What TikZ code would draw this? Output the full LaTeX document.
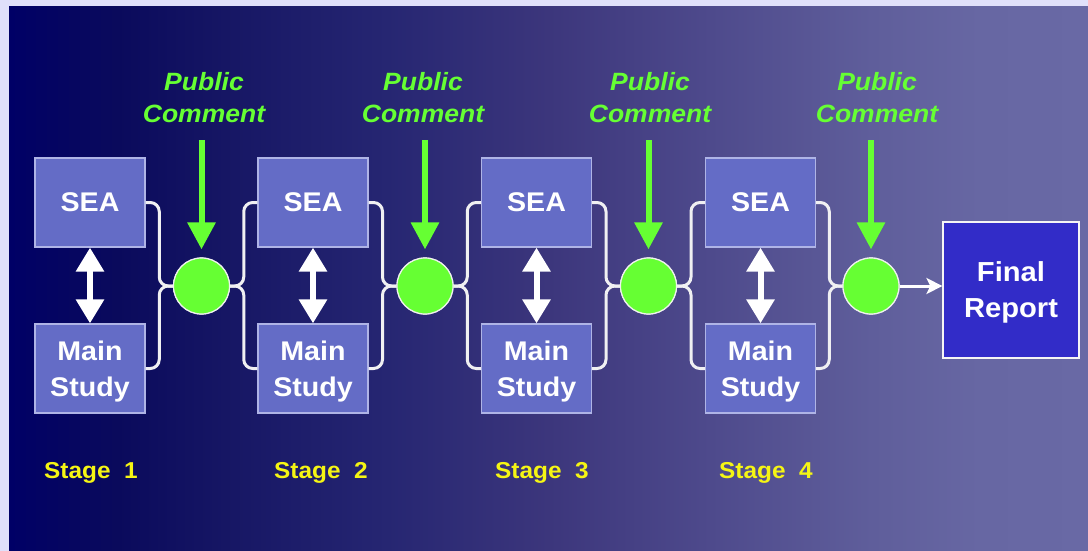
\documentclass[tikz,border=0pt]{standalone}
\usepackage{fontspec}
\setmainfont{Liberation Sans}[FakeStretch=1.06]
\usetikzlibrary{arrows.meta,calc}
\definecolor{frameclr}{RGB}{224,224,250}
\definecolor{bgA}{RGB}{0,0,102}
\definecolor{bgB}{RGB}{10,10,92}
\definecolor{bgC}{RGB}{22,22,100}
\definecolor{bgD}{RGB}{38,38,114}
\definecolor{bgE}{RGB}{60,54,124}
\definecolor{bgF}{RGB}{78,74,140}
\definecolor{bgG}{RGB}{95,94,155}
\definecolor{bgH}{RGB}{103,103,163}
\definecolor{bgI}{RGB}{105,105,165}
\definecolor{boxfill}{RGB}{100,108,198}
\definecolor{boxline}{RGB}{175,180,230}
\definecolor{finalfill}{RGB}{50,44,200}
\definecolor{pcgreen}{RGB}{102,255,51}
\definecolor{stageyellow}{RGB}{245,245,20}
\definecolor{braceclr}{RGB}{240,240,242}
\pgfdeclarehorizontalshading{bgshade}{100bp}{color(0bp)=(bgA); color(25bp)=(bgA); color(30bp)=(bgB); color(35bp)=(bgC); color(42.5bp)=(bgD); color(50bp)=(bgE); color(57.5bp)=(bgF); color(65bp)=(bgG); color(70bp)=(bgH); color(75bp)=(bgI); color(100bp)=(bgI)}
\newcommand{\nodepth}[1]{\raisebox{0pt}[\height][0pt]{#1}}
\tikzset{
  stagebox/.style={draw=boxline, line width=1.2pt, fill=boxfill, minimum width=110pt, minimum height=89pt, inner sep=0pt, text=white, font=\bfseries\fontsize{27}{36}\selectfont, align=center},
  finalbox/.style={draw=white!92!gray, line width=1.2pt, fill=finalfill, minimum width=136pt, minimum height=136pt, inner sep=0pt, text=white, font=\bfseries\fontsize{27.5}{36}\selectfont, align=center},
  joint/.style={circle, fill=pcgreen, draw=white!88!gray, line width=1.2pt, minimum size=56pt, inner sep=0pt},
  brace/.style={draw=braceclr, line width=3pt, rounded corners=9pt},
  pclabel/.style={text=pcgreen, font=\bfseries\itshape\fontsize{25}{32}\selectfont, align=center, inner sep=0pt, anchor=south},
  stagelabel/.style={text=stageyellow, font=\bfseries\fontsize{23}{26}\selectfont, inner sep=0pt, anchor=base west},
  pcarrow/.style={draw=pcgreen, line width=6pt, -{Triangle[length=27pt,width=27pt]}},
  linkarrow/.style={draw=white, line width=6pt, {Triangle[length=24pt,width=27pt]}-{Triangle[length=24pt,width=27pt]}},
  finalarrow/.style={draw=white, line width=3pt, -{Stealth[length=16pt,width=16pt,inset=4pt]}}
}
\begin{document}
\begin{tikzpicture}[x=1pt,y=-1pt]
\useasboundingbox (0,0) rectangle (1088,551);
\fill[frameclr] (0,0) rectangle (1088,551);
\shade[shading=bgshade] (9,7) rectangle (1088,551);

% boxes
\node[stagebox] (sea1) at (90,202.5) {SEA};
\node[stagebox] (sea2) at (313,202.5) {SEA};
\node[stagebox] (sea3) at (536.5,202.5) {SEA};
\node[stagebox] (sea4) at (760.5,202.5) {SEA};
\node[stagebox] (main1) at (90,368.5) {Main\\\nodepth{Study}};
\node[stagebox] (main2) at (313,368.5) {Main\\\nodepth{Study}};
\node[stagebox] (main3) at (536.5,368.5) {Main\\\nodepth{Study}};
\node[stagebox] (main4) at (760.5,368.5) {Main\\\nodepth{Study}};
\node[finalbox] (final) at (1011,290) {Final\\\nodepth{Report}};

% joints
\path (201.5,286) coordinate (p1) (425,286) coordinate (p2) (648.5,286) coordinate (p3) (871,286) coordinate (p4);
\foreach \i in {1,2,3,4}{\path (p\i) node[joint] (c\i) {};}

% public comment labels
\node[pclabel] (pc1) at (204,123) {Public\\Comment};
\node[pclabel] (pc2) at (423,123) {Public\\Comment};
\node[pclabel] (pc3) at (650,123) {Public\\Comment};
\node[pclabel] (pc4) at (877,123) {Public\\Comment};

% braces
\foreach \i/\n in {1/2,2/3,3/4}{
  \coordinate (j\i) at ($(sea\i.east)!0.5!(c\i.west)$);
  \coordinate (k\i) at ($(c\i.east)!0.5!(sea\n.west)$);
  \draw[brace] (sea\i.east) -| (j\i |- c\i.west) -- (c\i.west);
  \draw[brace] (main\i.east) -| (j\i |- c\i.west) -- (c\i.west);
  \draw[brace] (c\i.east) -- (k\i |- c\i.east) |- (sea\n.west);
  \draw[brace] (c\i.east) -- (k\i |- c\i.east) |- (main\n.west);
}
\coordinate (j4) at ($(sea4.east)!0.5!(c4.west)$);
\draw[brace] (sea4.east) -| (j4 |- c4.west) -- (c4.west);
\draw[brace] (main4.east) -| (j4 |- c4.west) -- (c4.west);

% redraw joints on top
\foreach \i in {1,2,3,4}{\node[joint] at (c\i) {};}

% arrows
\foreach \i in {1,2,3,4}{
  \draw[pcarrow, shorten >=8pt] ([yshift=-17pt]pc\i.south -| c\i) -- (c\i.north);
  \draw[linkarrow] (sea\i.south) -- (main\i.north);
}
\draw[finalarrow] (c4.east) -- (c4.east -| final.west);

% stage labels
\node[stagelabel] (st1) at (44,478) {Stage~~1};
\node[stagelabel] (st2) at (274,478) {Stage~~2};
\node[stagelabel] (st3) at (495,478) {Stage~~3};
\node[stagelabel] (st4) at (719,478) {Stage~~4};
\end{tikzpicture}
\end{document}
